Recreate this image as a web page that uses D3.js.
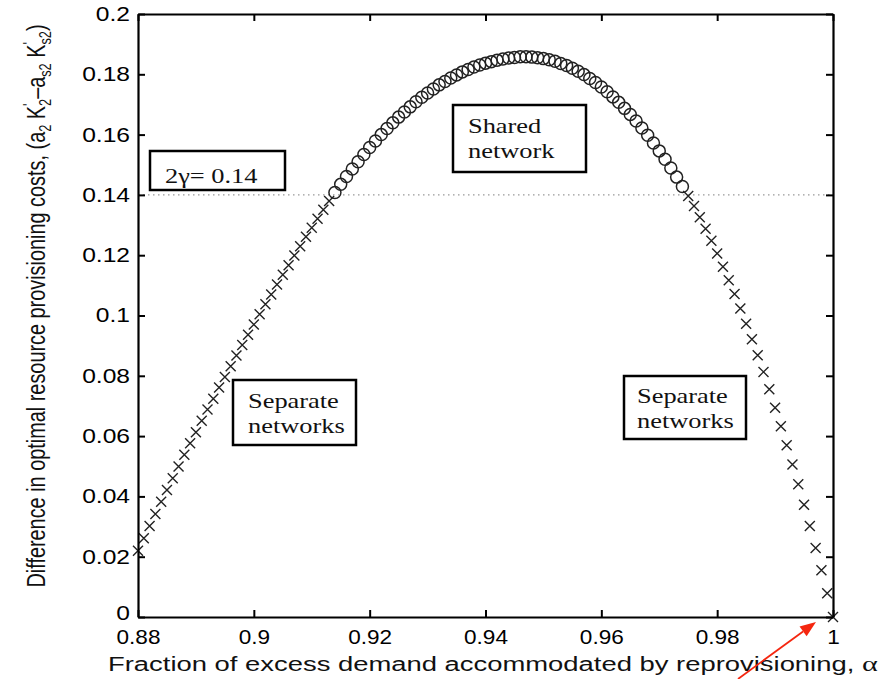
<!DOCTYPE html>
<html>
<head>
<meta charset="utf-8">
<script src="https://cdn.jsdelivr.net/npm/d3@7"></script>
<style>
  body { margin: 0; background: #fff; }
  svg { display: block; }
</style>
</head>
<body>
<svg id="chart" width="883" height="679"></svg>
<script>
// fraction of excess demand accommodated by reprovisioning (x)
var alpha = [
  0.880, 0.881, 0.882, 0.883, 0.884, 0.885, 0.886, 0.887, 0.888, 0.889,
  0.890, 0.891, 0.892, 0.893, 0.894, 0.895, 0.896, 0.897, 0.898, 0.899,
  0.900, 0.901, 0.902, 0.903, 0.904, 0.905, 0.906, 0.907, 0.908, 0.909,
  0.910, 0.911, 0.912, 0.913, 0.914, 0.915, 0.916, 0.917, 0.918, 0.919,
  0.920, 0.921, 0.922, 0.923, 0.924, 0.925, 0.926, 0.927, 0.928, 0.929,
  0.930, 0.931, 0.932, 0.933, 0.934, 0.935, 0.936, 0.937, 0.938, 0.939,
  0.940, 0.941, 0.942, 0.943, 0.944, 0.945, 0.946, 0.947, 0.948, 0.949,
  0.950, 0.951, 0.952, 0.953, 0.954, 0.955, 0.956, 0.957, 0.958, 0.959,
  0.960, 0.961, 0.962, 0.963, 0.964, 0.965, 0.966, 0.967, 0.968, 0.969,
  0.970, 0.971, 0.972, 0.973, 0.974, 0.975, 0.976, 0.977, 0.978, 0.979,
  0.980, 0.981, 0.982, 0.983, 0.984, 0.985, 0.986, 0.987, 0.988, 0.989,
  0.990, 0.991, 0.992, 0.993, 0.994, 0.995, 0.996, 0.997, 0.998, 0.999,
  1.000
]

// difference in optimal resource provisioning costs (y)
var costDiff = [
  0.0220, 0.0261, 0.0302, 0.0342, 0.0382, 0.0421, 0.0460, 0.0499, 0.0538, 0.0576,
  0.0613, 0.0651, 0.0688, 0.0724, 0.0761, 0.0796, 0.0832, 0.0867, 0.0902, 0.0936,
  0.0970, 0.1004, 0.1037, 0.1070, 0.1103, 0.1135, 0.1167, 0.1199, 0.1230, 0.1261,
  0.1291, 0.1321, 0.1351, 0.1380, 0.1408, 0.1435, 0.1461, 0.1486, 0.1510, 0.1534,
  0.1557, 0.1579, 0.1600, 0.1620, 0.1639, 0.1658, 0.1675, 0.1692, 0.1709, 0.1724,
  0.1738, 0.1751, 0.1765, 0.1776, 0.1788, 0.1798, 0.1808, 0.1816, 0.1824, 0.1831,
  0.1837, 0.1842, 0.1847, 0.1851, 0.1854, 0.1856, 0.1858, 0.1858, 0.1857, 0.1855,
  0.1852, 0.1848, 0.1843, 0.1836, 0.1829, 0.1820, 0.1810, 0.1799, 0.1786, 0.1773,
  0.1758, 0.1742, 0.1725, 0.1707, 0.1687, 0.1667, 0.1645, 0.1622, 0.1598, 0.1572,
  0.1546, 0.1518, 0.1489, 0.1459, 0.1428, 0.1396, 0.1363, 0.1326, 0.1288, 0.1248,
  0.1206, 0.1162, 0.1117, 0.1071, 0.1023, 0.0973, 0.0921, 0.0868, 0.0813, 0.0755,
  0.0694, 0.0633, 0.0570, 0.0506, 0.0440, 0.0372, 0.0302, 0.0229, 0.0155, 0.0079,
  0.0000
]

// 2*gamma threshold: above it a shared network is used
var gamma2 = 0.14

var xTicks = [0.88, 0.9, 0.92, 0.94, 0.96, 0.98, 1]
var yTicks = [0, 0.02, 0.04, 0.06, 0.08, 0.1, 0.12, 0.14, 0.16, 0.18, 0.2]

var boxTexts = [['2\u03b3= 0.14'], ['Shared', 'network'], ['Separate', 'networks'], ['Separate', 'networks']]

var svg = d3.select('#chart')
var margin = {top: 14, right: 50, bottom: 62, left: 138}
var width = 883 - margin.left - margin.right
var height = 679 - margin.top - margin.bottom
var g = svg.append('g')
  .attr('transform', 'translate(' + margin.left + ',' + margin.top + ')')

var x = d3.scaleLinear().domain([0.88, 1]).range([0, width])
var y = d3.scaleLinear().domain([0, 0.2]).range([height, 0])

var sans = 'Liberation Sans, Arial, Helvetica, sans-serif'
var serif = 'Liberation Serif, Times New Roman, serif'

// threshold line
g.append('line')
  .attr('x1', 0).attr('x2', width)
  .attr('y1', y(gamma2)).attr('y2', y(gamma2))
  .attr('stroke', '#999')
  .attr('stroke-width', 1.2)
  .attr('stroke-dasharray', '1.5,3.5')

// markers
var pts = alpha.map(function (a, i) { return {a: a, c: costDiff[i]} })

g.selectAll('circle.shared')
  .data(pts.filter(function (d) { return d.c > gamma2 }))
  .enter().append('circle')
  .attr('class', 'shared')
  .attr('cx', function (d) { return x(d.a) })
  .attr('cy', function (d) { return y(d.c) })
  .attr('r', 6)
  .attr('fill', 'none')
  .attr('stroke', '#222')
  .attr('stroke-width', 1.5)

g.selectAll('path.separate')
  .data(pts.filter(function (d) { return d.c <= gamma2 }))
  .enter().append('path')
  .attr('class', 'separate')
  .attr('transform', function (d) { return 'translate(' + x(d.a) + ',' + y(d.c) + ')' })
  .attr('d', 'M-5,-5L5,5M-5,5L5,-5')
  .attr('stroke', '#222')
  .attr('stroke-width', 1.4)
  .attr('fill', 'none')

// axes, matlab style box with inward ticks
function styleAxis (sel) {
  sel.select('.domain').attr('stroke', '#000').attr('stroke-width', 2.2)
  sel.selectAll('.tick line').attr('stroke', '#000').attr('stroke-width', 2)
  sel.selectAll('.tick text')
    .attr('font-family', sans)
    .attr('font-size', 20)
    .attr('fill', '#000')
}

var xAxis = g.append('g')
  .attr('transform', 'translate(0,' + height + ')')
  .call(d3.axisBottom(x).tickValues(xTicks).tickSizeInner(-7).tickSizeOuter(0)
    .tickPadding(13).tickFormat(function (d) { return String(d) }))
xAxis.call(styleAxis)
xAxis.selectAll('.tick text').attr('transform', 'scale(1.13,1)')

var yAxis = g.append('g')
  .call(d3.axisLeft(y).tickValues(yTicks).tickSizeInner(-7).tickSizeOuter(0)
    .tickPadding(6.5).tickFormat(function (d) { return String(d) }))
yAxis.call(styleAxis)
yAxis.selectAll('.tick text').attr('transform', 'scale(1.23,1)')
// the "0" label sits a little higher so it clears "0.88"
yAxis.selectAll('.tick text').filter(function (d) { return d === 0 }).attr('dy', '0.1em')

g.append('g')
  .call(d3.axisTop(x).tickValues(xTicks).tickSizeInner(-7).tickSizeOuter(0).tickFormat(''))
  .call(styleAxis)
g.append('g')
  .attr('transform', 'translate(' + width + ',0)')
  .call(d3.axisRight(y).tickValues(yTicks).tickSizeInner(-7).tickSizeOuter(0).tickFormat(''))
  .call(styleAxis)

// annotation boxes (pixel layout)
var boxLayout = [
  {x: 150, y: 151, w: 135, h: 39, tx: 165, ty: [183]},
  {x: 453, y: 105, w: 133, h: 67, tx: 468, ty: [133, 158]},
  {x: 233, y: 380, w: 123, h: 65, tx: 248, ty: [408, 433]},
  {x: 624, y: 376, w: 122, h: 63, tx: 637, ty: [403, 428]}
]
boxLayout.forEach(function (b, i) {
  svg.append('rect')
    .attr('x', b.x).attr('y', b.y).attr('width', b.w).attr('height', b.h)
    .attr('fill', '#fff').attr('stroke', '#000').attr('stroke-width', 2.5)
  boxTexts[i].forEach(function (t, j) {
    svg.append('text')
      .attr('transform', 'translate(' + b.tx + ',' + b.ty[j] + ') scale(1.2,1)')
      .attr('font-family', serif)
      .attr('font-size', 22)
      .attr('fill', '#111')
      .text(t)
  })
})

// x axis title
var xt = svg.append('text')
  .attr('font-family', sans)
  .attr('font-size', 20)
  .attr('fill', '#111')
xt.append('tspan').text('Fraction of excess demand accommodated by reprovisioning, ')
xt.append('tspan').attr('font-family', serif).attr('font-size', 22).text('\u03b1')
var xtLen = xt.node().getComputedTextLength()
xt.attr('transform', 'translate(108,671) scale(' + (770 / xtLen) + ',1)')

// y axis title (condensed, as in the original)
var yt = svg.append('text')
  .attr('font-family', sans)
  .attr('font-size', 25)
  .attr('fill', '#111')
  .attr('text-anchor', 'middle')
yt.append('tspan').text('Difference in optimal resource provisioning costs, (a')
yt.append('tspan').attr('dy', 6).attr('font-size', 16).text('2')
yt.append('tspan').attr('dy', -6).text(' K')
yt.append('tspan').attr('dy', -10).attr('font-size', 16).text("'")
yt.append('tspan').attr('dy', 16).attr('dx', -3).attr('font-size', 16).text('2')
yt.append('tspan').attr('dy', -6).text('\u2013a')
yt.append('tspan').attr('dy', 6).attr('font-size', 16).text('s2')
yt.append('tspan').attr('dy', -6).text(' K')
yt.append('tspan').attr('dy', -10).attr('font-size', 16).text("'")
yt.append('tspan').attr('dy', 16).attr('dx', -3).attr('font-size', 16).text('s2')
yt.append('tspan').attr('dy', -6).text(')')
var ytLen = yt.node().getComputedTextLength()
yt.attr('transform', 'translate(45,306) rotate(-90) scale(' + (568 / ytLen) + ',1)')

// red arrow pointing at alpha = 1
var tail = [738, 679]
var tip = [816, 622]
var ang = Math.atan2(tip[1] - tail[1], tip[0] - tail[0])
var hl = 16
var hw = 6
var base = [tip[0] - hl * Math.cos(ang), tip[1] - hl * Math.sin(ang)]
svg.append('line')
  .attr('x1', tail[0]).attr('y1', tail[1])
  .attr('x2', base[0]).attr('y2', base[1])
  .attr('stroke', '#f5260f').attr('stroke-width', 1.8)
svg.append('path')
  .attr('d', 'M' + tip[0] + ',' + tip[1] +
    'L' + (base[0] + hw * Math.sin(ang)) + ',' + (base[1] - hw * Math.cos(ang)) +
    'L' + (base[0] - hw * Math.sin(ang)) + ',' + (base[1] + hw * Math.cos(ang)) + 'Z')
  .attr('fill', '#f5260f')
</script>
</body>
</html>
